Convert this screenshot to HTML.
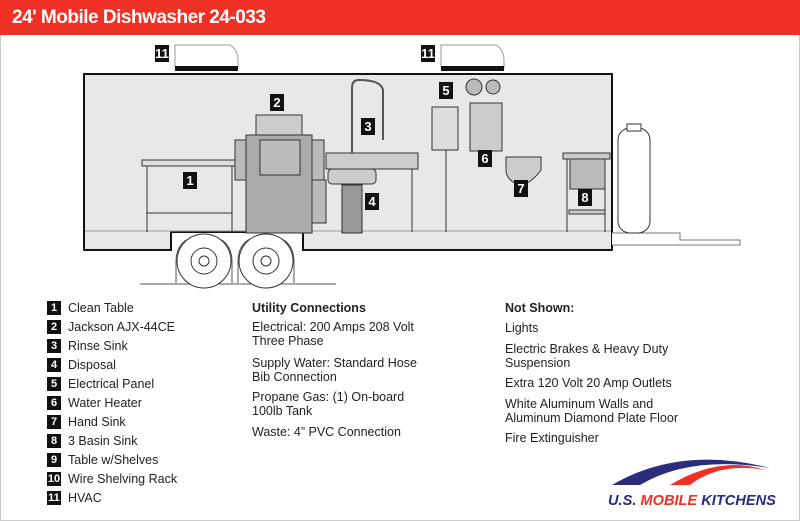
<!DOCTYPE html>
<html><head><meta charset="utf-8"><style>
body{margin:0;width:800px;height:521px;overflow:hidden;background:#fff;font-family:"Liberation Sans",sans-serif;}
.wrap{position:absolute;left:0;top:0;width:798px;height:519px;border:1px solid #ccc;}
.hdr{position:absolute;left:0;top:0;width:800px;height:35px;background:#ee3124;color:#fff;font-weight:bold;font-size:19px;line-height:35px;padding-left:12px;box-sizing:border-box;letter-spacing:-0.5px}
.t{position:absolute;font-size:12.5px;color:#222;white-space:nowrap;line-height:14px}
.n{position:absolute;left:47px;width:14px;height:14px;background:#111;color:#fff;font-weight:bold;font-size:11px;line-height:14px;text-align:center}
b{font-weight:bold}
</style></head><body><div class="wrap"></div>
<div class="hdr">24' Mobile Dishwasher 24-033</div>
<svg style="position:absolute;left:0;top:0" width="800" height="521">
<g stroke="#333" fill="#e8e8e8">
<path d="M175 68 V45 H230 Q238 50 238 60 V68 Z" fill="#fff" stroke="#999"/><rect x="175" y="66" width="63" height="5" fill="#111" stroke="none"/>
<path d="M441 68 V45 H496 Q504 50 504 60 V68 Z" fill="#fff" stroke="#999"/><rect x="441" y="66" width="63" height="5" fill="#111" stroke="none"/>
<path d="M84 74 H612 V250 H303 V232 H171 V250 H84 Z" stroke="#111" stroke-width="2"/>
<line x1="85" y1="231" x2="611" y2="231" stroke="#999"/>
<path d="M612 233 H680 V240 H740 V245 H612" fill="#fff" stroke="#777"/>
<line x1="140" y1="284" x2="336" y2="284" stroke="#555"/>
<path d="M176 283 V262 Q176 236 204 236 Q232 236 232 262 V283" fill="none" stroke="#555"/>
<path d="M238 283 V262 Q238 236 266 236 Q294 236 294 262 V283" fill="none" stroke="#555"/>
<circle cx="204" cy="261" r="27" fill="#fff"/><circle cx="204" cy="261" r="13" fill="#fff"/><circle cx="204" cy="261" r="5" fill="#fff"/>
<circle cx="266" cy="261" r="27" fill="#fff"/><circle cx="266" cy="261" r="13" fill="#fff"/><circle cx="266" cy="261" r="5" fill="#fff"/>
<rect x="142" y="160" width="93" height="6" fill="#ddd"/><line x1="147" y1="166" x2="147" y2="232"/><line x1="232" y1="166" x2="232" y2="232"/><line x1="147" y1="213" x2="232" y2="213"/>
<rect x="256" y="115" width="46" height="20" fill="#ccc"/>
<rect x="235" y="140" width="12" height="40" fill="#bbb"/><rect x="312" y="140" width="12" height="40" fill="#bbb"/>
<rect x="246" y="135" width="66" height="98" fill="#aaa"/><rect x="260" y="140" width="40" height="35" fill="#bbb"/>
<rect x="312" y="180" width="14" height="43" fill="#bbb"/>
<rect x="326" y="153" width="92" height="16" fill="#ccc"/><rect x="328" y="169" width="48" height="15" rx="4" fill="#ccc"/>
<line x1="412" y1="169" x2="412" y2="232"/>
<path d="M352 153 V88 Q352 80 359 80 Q381 80 383 90 V140" fill="none" stroke="#555" stroke-width="2"/>
<rect x="342" y="185" width="20" height="48" fill="#999"/>
<rect x="432" y="107" width="26" height="43" fill="#ddd"/><line x1="446" y1="150" x2="446" y2="232"/>
<rect x="470" y="103" width="32" height="48" fill="#ccc"/><circle cx="474" cy="87" r="8" fill="#bbb"/><circle cx="493" cy="87" r="7" fill="#bbb"/>
<path d="M506 157 H541 V170 Q530 185 519 185 Q506 180 506 170 Z" fill="#ccc"/>
<rect x="563" y="153" width="47" height="6" fill="#ccc"/><rect x="570" y="159" width="35" height="30" fill="#bbb"/>
<line x1="567" y1="159" x2="567" y2="232"/><line x1="605" y1="159" x2="605" y2="232"/><rect x="569" y="210" width="36" height="4" fill="#ccc"/>
<rect x="618" y="128" width="32" height="105" rx="12" fill="#fff"/><rect x="627" y="124" width="14" height="7" fill="#fff"/>
</g>
<g font-family="Liberation Sans" font-weight="bold" font-size="13" fill="#fff" text-anchor="middle">
<rect x="155" y="45" width="14" height="17" fill="#111"/><text x="162" y="58">11</text>
<rect x="421" y="45" width="14" height="17" fill="#111"/><text x="428" y="58">11</text>
<rect x="183" y="172" width="14" height="17" fill="#111"/><text x="190" y="185">1</text>
<rect x="270" y="94" width="14" height="17" fill="#111"/><text x="277" y="107">2</text>
<rect x="361" y="118" width="14" height="17" fill="#111"/><text x="368" y="131">3</text>
<rect x="365" y="193" width="14" height="17" fill="#111"/><text x="372" y="206">4</text>
<rect x="439" y="82" width="14" height="17" fill="#111"/><text x="446" y="95">5</text>
<rect x="478" y="150" width="14" height="17" fill="#111"/><text x="485" y="163">6</text>
<rect x="514" y="180" width="14" height="17" fill="#111"/><text x="521" y="193">7</text>
<rect x="578" y="189" width="14" height="17" fill="#111"/><text x="585" y="202">8</text>
</g>
<path d="M612 485 Q680 445 770 468 Q690 455 640 485 Z" fill="#2b2c7c"/>
<path d="M670 485 Q720 455 765 470 Q720 462 690 485 Z" fill="#ee3124"/>
<text x="608" y="505" font-family="Liberation Sans" font-style="italic" font-weight="bold" font-size="14.6" fill="#2b2c7c">U.S. <tspan fill="#ee3124">MOBILE</tspan> KITCHENS</text>
</svg>
<div class="n" style="top:301px">1</div><div class="t" style="left:68px;top:301px">Clean Table</div>
<div class="n" style="top:320px">2</div><div class="t" style="left:68px;top:320px">Jackson AJX-44CE</div>
<div class="n" style="top:339px">3</div><div class="t" style="left:68px;top:339px">Rinse Sink</div>
<div class="n" style="top:358px">4</div><div class="t" style="left:68px;top:358px">Disposal</div>
<div class="n" style="top:377px">5</div><div class="t" style="left:68px;top:377px">Electrical Panel</div>
<div class="n" style="top:396px">6</div><div class="t" style="left:68px;top:396px">Water Heater</div>
<div class="n" style="top:415px">7</div><div class="t" style="left:68px;top:415px">Hand Sink</div>
<div class="n" style="top:434px">8</div><div class="t" style="left:68px;top:434px">3 Basin Sink</div>
<div class="n" style="top:453px">9</div><div class="t" style="left:68px;top:453px">Table w/Shelves</div>
<div class="n" style="top:472px">10</div><div class="t" style="left:68px;top:472px">Wire Shelving Rack</div>
<div class="n" style="top:491px">11</div><div class="t" style="left:68px;top:491px">HVAC</div>
<div class="t" style="left:252px;top:301px"><b>Utility Connections</b></div>
<div class="t" style="left:252px;top:320px">Electrical: 200 Amps 208 Volt<br>Three Phase</div>
<div class="t" style="left:252px;top:356px">Supply Water: Standard Hose<br>Bib Connection</div>
<div class="t" style="left:252px;top:390px">Propane Gas: (1) On-board<br>100lb Tank</div>
<div class="t" style="left:252px;top:425px">Waste: 4” PVC Connection</div>
<div class="t" style="left:505px;top:301px"><b>Not Shown:</b></div>
<div class="t" style="left:505px;top:321px">Lights</div>
<div class="t" style="left:505px;top:342px">Electric Brakes &amp; Heavy Duty<br>Suspension</div>
<div class="t" style="left:505px;top:376px">Extra 120 Volt 20 Amp Outlets</div>
<div class="t" style="left:505px;top:397px">White Aluminum Walls and<br>Aluminum Diamond Plate Floor</div>
<div class="t" style="left:505px;top:431px">Fire Extinguisher</div>
</body></html>
